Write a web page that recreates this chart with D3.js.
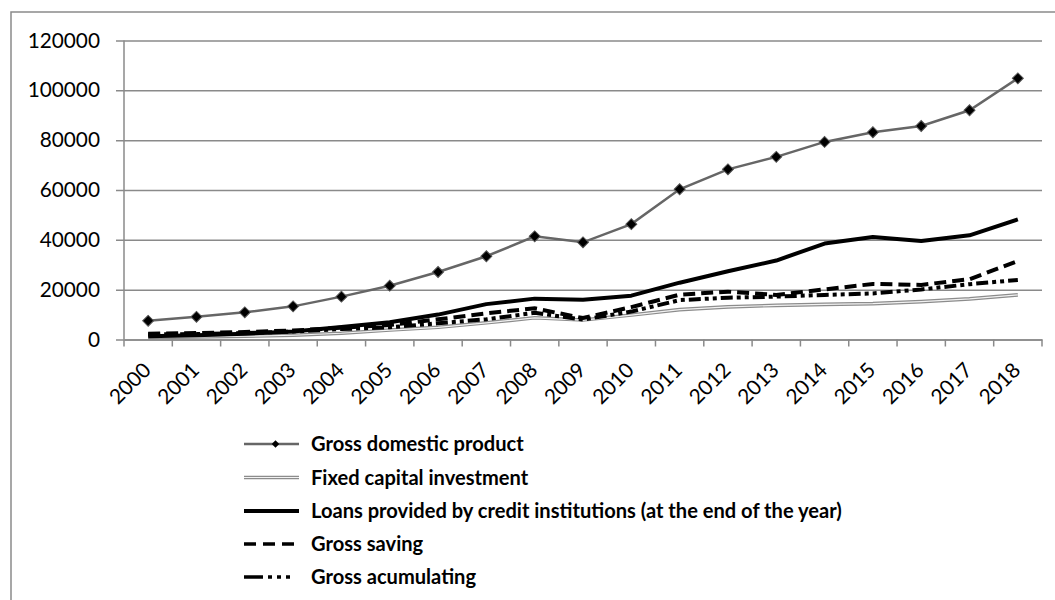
<!DOCTYPE html>
<html>
<head>
<meta charset="utf-8">
<script src="https://cdn.jsdelivr.net/npm/d3@7"></script>
<style>
  html, body { margin: 0; padding: 0; background: #fff; }
  svg { display: block; }
  text { font-family: Lato, "Open Sans", sans-serif; fill: #000; }
</style>
</head>
<body>
<svg id="chart" width="1055" height="600"></svg>
<script>
// Years on the category axis
const years = ["2000","2001","2002","2003","2004","2005","2006","2007","2008","2009",
               "2010","2011","2012","2013","2014","2015","2016","2017","2018"];

// Series values
const gdp        = [7500, 9100, 10900, 13300, 17200, 21600, 27100, 33400, 41400, 39000,
                    46300, 60300, 68300, 73300, 79300, 83200, 85700, 92000, 104800];
const fixedCap   = [800, 1000, 1300, 1700, 2500, 3800, 4900, 6700, 8700, 7800,
                    9800, 12000, 13100, 13700, 14100, 14400, 15200, 16300, 17900];
const loans      = [1300, 1700, 2300, 3200, 5000, 6900, 10000, 14200, 16400, 16000,
                    17600, 22800, 27400, 31700, 38500, 41100, 39500, 41800, 48200];
const saving     = [2300, 2600, 3000, 3600, 4700, 5800, 8100, 10500, 12500, 8600,
                    13000, 18000, 19200, 17900, 20100, 22300, 21900, 24200, 31500];
const accumulate = [2000, 2200, 2600, 3200, 4200, 4900, 6500, 8100, 10700, 8000,
                    11200, 15800, 16800, 17200, 17900, 18500, 20100, 22200, 23900];

const yTicks = [0, 20000, 40000, 60000, 80000, 100000, 120000];

const seriesNames = [
  "Gross domestic product",
  "Fixed capital investment",
  "Loans provided by credit institutions (at the end of the year)",
  "Gross saving",
  "Gross acumulating"
];

const svg = d3.select("#chart");
const plot = { left: 124, right: 1042, top: 40.5, bottom: 339.5 };
const gridColor = "#8a8a8a";

// outer chart frame
svg.append("rect")
  .attr("x", 11).attr("y", 12)
  .attr("width", 1200).attr("height", 800)
  .attr("fill", "none").attr("stroke", gridColor).attr("stroke-width", 1.5);

const x = d3.scaleBand().domain(years).range([plot.left, plot.right]);
const y = d3.scaleLinear().domain([0, 120000]).range([plot.bottom, plot.top]);
const cx = d => x(d) + x.bandwidth() / 2;

// horizontal gridlines + value axis
const yAxis = d3.axisLeft(y)
  .tickValues(yTicks)
  .tickSize(plot.right - plot.left + 8)
  .tickSizeOuter(0)
  .tickPadding(16)
  .tickFormat(d3.format("d"));

const gy = svg.append("g")
  .attr("transform", `translate(${plot.right},0)`)
  .call(yAxis);
gy.select(".domain").remove();
gy.selectAll(".tick line").attr("stroke", gridColor).attr("stroke-width", 1.5);
gy.selectAll(".tick text")
  .style("font-size", "20.8px")
  .style("font-family", "Lato, sans-serif")
  .attr("fill", "#000");

// vertical value-axis line
svg.append("line")
  .attr("x1", plot.left).attr("x2", plot.left)
  .attr("y1", plot.top).attr("y2", plot.bottom)
  .attr("stroke", gridColor).attr("stroke-width", 1.5);

// category axis with tick marks between categories
const xAxis = d3.axisBottom(x).tickSize(0).tickFormat("");
const gx = svg.append("g")
  .attr("transform", `translate(0,${plot.bottom})`)
  .call(xAxis);
gx.select(".domain").attr("stroke", gridColor).attr("stroke-width", 1.5);
gx.selectAll(".tick").remove();

const boundaries = years.map(d => x(d)).concat([plot.right]);
svg.append("g").selectAll("line")
  .data(boundaries)
  .join("line")
  .attr("x1", d => d).attr("x2", d => d)
  .attr("y1", plot.bottom).attr("y2", plot.bottom + 7)
  .attr("stroke", gridColor).attr("stroke-width", 1.5);

// rotated year labels
svg.append("g").selectAll("text")
  .data(years)
  .join("text")
  .attr("transform", d => `translate(${cx(d) + 4},${plot.bottom + 32}) rotate(-45)`)
  .attr("text-anchor", "end")
  .style("font-size", "20.8px")
  .text(d => d);

const line = d3.line().x((d, i) => cx(years[i])).y(d => y(d));

// Fixed capital investment: double gray line
svg.append("path").datum(fixedCap)
  .attr("d", line).attr("fill", "none")
  .attr("stroke", "#8c8c8c").attr("stroke-width", 3.6);
svg.append("path").datum(fixedCap)
  .attr("d", line).attr("fill", "none")
  .attr("stroke", "#f2f2f2").attr("stroke-width", 1.2);

// Gross acumulating: long dash dot dot
svg.append("path").datum(accumulate)
  .attr("d", line).attr("fill", "none")
  .attr("stroke", "#000").attr("stroke-width", 4)
  .attr("stroke-dasharray", "12,4,4,4,4,4");

// Gross saving: dashed
svg.append("path").datum(saving)
  .attr("d", line).attr("fill", "none")
  .attr("stroke", "#000").attr("stroke-width", 4)
  .attr("stroke-dasharray", "12,6");

// Loans: solid black
svg.append("path").datum(loans)
  .attr("d", line).attr("fill", "none")
  .attr("stroke", "#000").attr("stroke-width", 4)
  .attr("stroke-linejoin", "round");

// GDP: gray line with diamond markers
svg.append("path").datum(gdp)
  .attr("d", line).attr("fill", "none")
  .attr("stroke", "#666").attr("stroke-width", 2.5);

const diamond = d3.symbol().type(d3.symbolSquare).size(60);
svg.append("g").selectAll("path")
  .data(gdp)
  .join("path")
  .attr("d", diamond)
  .attr("transform", (d, i) => `translate(${cx(years[i])},${y(d)}) rotate(45)`)
  .attr("fill", "#000").attr("stroke", "#555").attr("stroke-width", 1);

// legend
const legend = svg.append("g");
const rowY = [444, 477.5, 511, 544, 577];
const lx1 = 244, lx2 = 299, tx = 311;

const styles = [
  { stroke: "#666", width: 2.5, dash: null },
  { stroke: "#8c8c8c", width: 3.6, dash: null, inner: true },
  { stroke: "#000", width: 4, dash: null },
  { stroke: "#000", width: 3.5, dash: "12,7" },
  { stroke: "#000", width: 3.5, dash: "19,5,4,5,4,5,4" }
];

seriesNames.forEach((name, i) => {
  const s = styles[i];
  legend.append("line")
    .attr("x1", lx1).attr("x2", lx2).attr("y1", rowY[i]).attr("y2", rowY[i])
    .attr("stroke", s.stroke).attr("stroke-width", s.width)
    .attr("stroke-dasharray", s.dash);
  if (s.inner) {
    legend.append("line")
      .attr("x1", lx1).attr("x2", lx2).attr("y1", rowY[i]).attr("y2", rowY[i])
      .attr("stroke", "#f2f2f2").attr("stroke-width", 1.2);
  }
  if (i === 0) {
    legend.append("path")
      .attr("d", d3.symbol().type(d3.symbolSquare).size(28))
      .attr("transform", `translate(${(lx1 + lx2) / 2 + 4},${rowY[i]}) rotate(45)`)
      .attr("fill", "#000");
  }
  legend.append("text")
    .attr("x", tx).attr("y", rowY[i])
    .attr("dy", "0.35em")
    .style("font-size", "20.1px")
    .style("font-weight", "bold")
    .text(name);
});
</script>
</body>
</html>
